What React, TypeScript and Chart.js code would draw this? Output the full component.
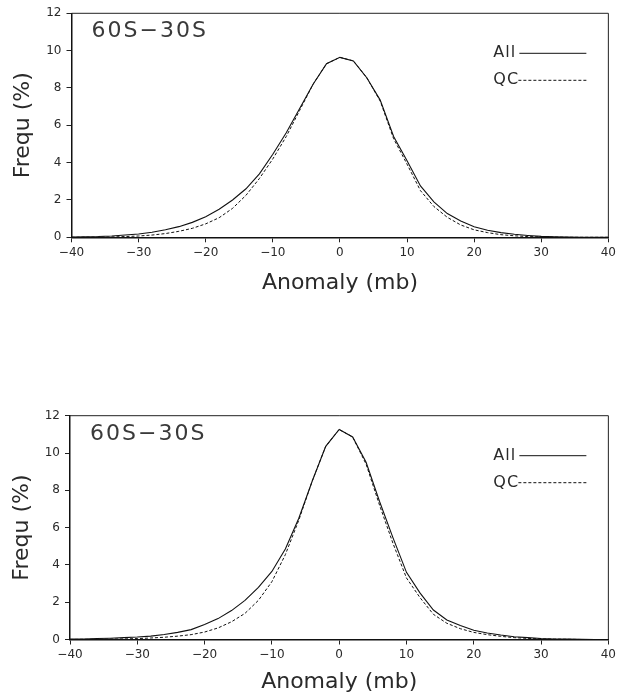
import React, { useEffect, useRef } from 'react';
import { Chart, registerables } from 'chart.js';

Chart.register(...registerables);

// ---- data ----
const anomalyMb = [
  -40, -38, -36, -34, -32, -30, -28, -26, -24, -22, -20, -18, -16, -14, -12, -10, -8, -6, -4, -2,
  0, 2, 4, 6, 8, 10, 12, 14, 16, 18, 20, 22, 24, 26, 28, 30, 32, 34, 36, 38, 40,
];

const topAll = [
  0.02, 0.03, 0.04, 0.07, 0.12, 0.18, 0.27, 0.4, 0.57, 0.8, 1.1, 1.5, 2.0, 2.6, 3.4, 4.45, 5.6, 6.9, 8.2, 9.3,
  9.64, 9.45, 8.55, 7.35, 5.4, 4.1, 2.75, 1.9, 1.27, 0.87, 0.57, 0.38, 0.25, 0.16, 0.1, 0.05, 0.03, 0.01, 0, 0, 0,
];
const topQC = [
  0, 0.01, 0.01, 0.02, 0.04, 0.07, 0.12, 0.2, 0.32, 0.48, 0.72, 1.05, 1.55, 2.25, 3.15, 4.2, 5.4, 6.8, 8.2, 9.3,
  9.64, 9.45, 8.55, 7.3, 5.28, 3.92, 2.5, 1.65, 1.07, 0.66, 0.4, 0.25, 0.14, 0.08, 0.04, 0.02, 0.01, 0, 0, 0, 0,
];

const bottomAll = [
  0.02, 0.03, 0.05, 0.07, 0.1, 0.13, 0.18, 0.27, 0.38, 0.53, 0.8, 1.12, 1.55, 2.1, 2.8, 3.65, 4.85, 6.5, 8.5, 10.36,
  11.26, 10.86, 9.5, 7.4, 5.45, 3.6, 2.5, 1.58, 1.05, 0.75, 0.5, 0.35, 0.24, 0.15, 0.1, 0.05, 0.03, 0.02, 0.01, 0, 0,
];
const bottomQC = [
  0, 0.01, 0.01, 0.02, 0.03, 0.05, 0.08, 0.12, 0.18, 0.26, 0.4, 0.62, 0.95, 1.4, 2.1, 3.1, 4.55, 6.4, 8.5, 10.36,
  11.26, 10.86, 9.4, 7.2, 5.15, 3.3, 2.25, 1.35, 0.87, 0.58, 0.38, 0.26, 0.17, 0.1, 0.06, 0.03, 0.02, 0.01, 0, 0, 0,
];

const xTicks = [-40, -30, -20, -10, 0, 10, 20, 30, 40];
const yTicks = [0, 2, 4, 6, 8, 10, 12];
const regionLabel = '60S\u221230S';
const seriesNames = ['All', 'QC'];
const xTitle = 'Anomaly (mb)';
const yTitle = 'Frequ (%)';

const FONT = "'DejaVu Sans', sans-serif";

const fmt = (v: number) => String(v).replace('-', '\u2212');

type PanelProps = {
  all: number[];
  qc: number[];
  top: number;
  height: number;
  padTop: number;
  padRight: number;
  yWidth: number;
  xHeight: number;
  xTitlePadBottom: number;
  yTitlePad: number;
};

function makeFrame() {
  return {
    id: 'frameAndLabels',
    afterDraw(chart: any) {
      const { ctx, chartArea: a } = chart;
      ctx.save();
      // top and right frame lines
      ctx.strokeStyle = '#222';
      ctx.lineWidth = 1;
      ctx.beginPath();
      ctx.moveTo(a.left, a.top);
      ctx.lineTo(a.right, a.top);
      ctx.lineTo(a.right, a.bottom);
      ctx.stroke();

      // region label
      ctx.fillStyle = '#3a3a3a';
      ctx.font = `22px ${FONT}`;
      ctx.textAlign = 'left';
      ctx.textBaseline = 'alphabetic';
      try { (ctx as any).letterSpacing = '2px'; } catch (e) {}
      ctx.fillText(regionLabel, a.left + 20, a.top + 24);

      // legend
      ctx.font = `16px ${FONT}`;
      try { (ctx as any).letterSpacing = '1px'; } catch (e) {}
      ctx.textBaseline = 'middle';
      const lx = a.right - 115;
      const y1 = a.top + 40;
      const y2 = a.top + 67;
      ctx.fillStyle = '#2a2a2a';
      ctx.fillText(seriesNames[0], lx, y1);
      ctx.fillText(seriesNames[1], lx, y2);
      ctx.strokeStyle = '#111';
      ctx.lineWidth = 1;
      ctx.beginPath();
      ctx.moveTo(a.right - 89, y1);
      ctx.lineTo(a.right - 22, y1);
      ctx.stroke();
      ctx.setLineDash([3, 2]);
      ctx.beginPath();
      ctx.moveTo(a.right - 90, y2);
      ctx.lineTo(a.right - 22, y2);
      ctx.stroke();
      ctx.restore();
    },
  };
}

function Panel(p: PanelProps) {
  const ref = useRef<HTMLCanvasElement | null>(null);
  useEffect(() => {
    if (!ref.current) return;
    const chart = new Chart(ref.current, {
      type: 'line',
      data: {
        datasets: [
          {
            label: seriesNames[1],
            data: anomalyMb.map((x, i) => ({ x, y: p.qc[i] })),
            borderColor: '#111',
            borderWidth: 1,
            borderDash: [3, 2],
            pointRadius: 0,
            tension: 0,
            fill: false,
          },
          {
            label: seriesNames[0],
            data: anomalyMb.map((x, i) => ({ x, y: p.all[i] })),
            borderColor: '#111',
            borderWidth: 1.1,
            pointRadius: 0,
            tension: 0,
            fill: false,
          },
        ],
      },
      options: {
        animation: false,
        responsive: false,
        devicePixelRatio: 1,
        layout: { padding: { top: p.padTop, right: p.padRight, left: 0, bottom: 0 } },
        plugins: { legend: { display: false }, tooltip: { enabled: false }, title: { display: false } },
        scales: {
          x: {
            type: 'linear',
            min: -40,
            max: 40,
            afterBuildTicks: (s: any) => {
              s.ticks = xTicks.map((v) => ({ value: v }));
            },
            afterFit: (s: any) => {
              s.height = p.xHeight;
            },
            ticks: {
              autoSkip: false,
              maxRotation: 0,
              padding: 3,
              color: '#2a2a2a',
              font: { family: FONT, size: 12 },
              callback: (v: any) => fmt(Number(v)),
            },
            grid: { drawOnChartArea: false, drawTicks: true, tickLength: 5, tickColor: '#222', tickWidth: 1 },
            border: { display: true, color: '#111', width: 1.5 },
            title: {
              display: true,
              text: xTitle,
              color: '#2a2a2a',
              font: { family: FONT, size: 22 },
              padding: { top: 0, bottom: p.xTitlePadBottom },
            },
          },
          y: {
            type: 'linear',
            min: 0,
            max: 12,
            afterBuildTicks: (s: any) => {
              s.ticks = yTicks.map((v) => ({ value: v }));
            },
            afterFit: (s: any) => {
              s.width = p.yWidth;
            },
            ticks: {
              padding: 5,
              color: '#2a2a2a',
              font: { family: FONT, size: 12 },
              callback: (v: any) => fmt(Number(v)),
            },
            grid: { drawOnChartArea: false, drawTicks: true, tickLength: 5, tickColor: '#222', tickWidth: 1 },
            border: { display: true, color: '#111', width: 1.5 },
            title: {
              display: true,
              text: yTitle,
              color: '#2a2a2a',
              font: { family: FONT, size: 22 },
              padding: { top: p.yTitlePad, bottom: 0 },
            },
          },
        },
      },
      plugins: [makeFrame()],
    } as any);
    return () => chart.destroy();
  }, []);
  return (
    <div style={{ position: 'absolute', left: 0, top: p.top, width: 619, height: p.height }}>
      <canvas ref={ref} width={619} height={p.height} style={{ display: 'block', width: 619, height: p.height }} />
    </div>
  );
}

export default function App() {
  return (
    <div style={{ position: 'absolute', left: 0, top: 0, width: 619, height: 695, background: '#fff', overflow: 'hidden' }}>
      <Panel all={topAll} qc={topQC} top={0} height={300} padTop={13.3} padRight={9} yWidth={71.5} xHeight={62.7} xTitlePadBottom={3.4} yTitlePad={10.3} />
      <Panel all={bottomAll} qc={bottomQC} top={390} height={305} padTop={25.7} padRight={10.5} yWidth={70} xHeight={55.5} xTitlePadBottom={0} yTitlePad={9.3} />
    </div>
  );
}
